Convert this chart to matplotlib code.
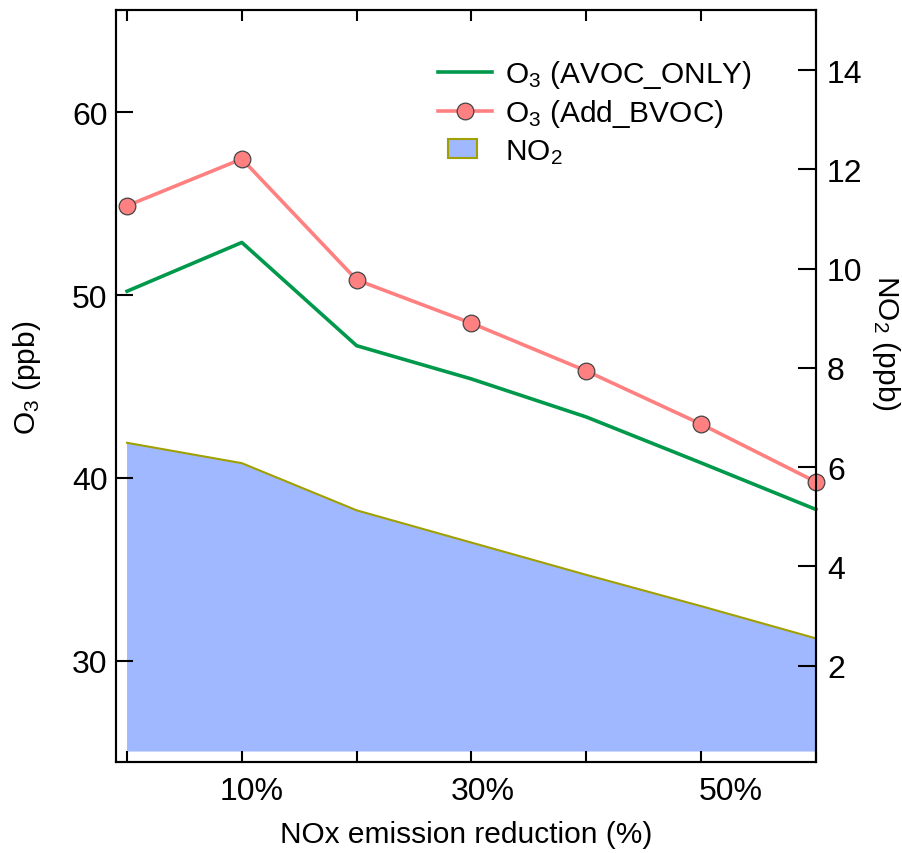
import numpy as np
import matplotlib
matplotlib.use("Agg")
from matplotlib import pyplot as plt
from matplotlib.ticker import FixedLocator
from matplotlib.patches import Rectangle
from matplotlib.legend_handler import HandlerPatch
from matplotlib.transforms import ScaledTranslation

plt.rcParams['font.family'] = ['Liberation Sans', 'DejaVu Sans']
plt.rcParams['mathtext.default'] = 'regular'

# data
reduction = [0, 10, 20, 30, 40, 50, 60]          # NOx emission reduction (%)
o3_avoc_only = [50.21, 52.88, 47.23, 45.41, 43.33, 40.82, 38.27]
o3_add_bvoc = [54.89, 57.45, 50.83, 48.46, 45.85, 42.94, 39.78]
no2 = [6.49, 6.08, 5.13, 4.48, 3.83, 3.20, 2.55]
x_labeled = [10, 30, 50]
x_unlabeled = [0, 20, 40, 60]
left_ticks = [30, 40, 50, 60]
right_ticks = [2, 4, 6, 8, 10, 12, 14]

green = '#00994C'
pink = '#FF8080'
fill_col = '#A0B8FF'
edge_col = '#A0A000'

fig = plt.figure(figsize=(9.03, 8.54), dpi=100)
ax1 = fig.add_axes([0.1285, 0.1066, 0.775, 0.8805])
ax2 = ax1.twinx()

# NO2 area on the right axis
ax2.fill_between(reduction, no2, 0.27, facecolor=fill_col, edgecolor='none', zorder=1)
ax2.plot(reduction, no2, color=edge_col, lw=1.5, zorder=2)
ax2.set_ylim(0.06, 15.21)
ax2.set_yticks(right_ticks)
ax2.set_ylabel('NO$_2$ (ppb)', fontsize=21.5, rotation=270, va='center', ha='center')
ax2.yaxis.set_label_coords(1.1, 0.5585)

# O3 lines on the left axis, drawn above the twin
ax1.set_zorder(ax2.get_zorder() + 1)
ax1.patch.set_visible(False)
l1, = ax1.plot(reduction, o3_avoc_only, color=green, lw=2.6, clip_on=False)
l2, = ax1.plot(reduction, o3_add_bvoc, color=pink, lw=2.6, marker='o', ms=12,
               mfc=pink, mec='#444444', mew=0.9, clip_on=False)
ax1.set_ylim(24.45, 65.6)
ax1.set_yticks(left_ticks)
ax1.set_xlim(-0.96, 60)
ax1.xaxis.set_major_locator(FixedLocator(x_labeled))
ax1.xaxis.set_minor_locator(FixedLocator(x_unlabeled))
ax1.set_xticklabels([f'{v}%' for v in x_labeled])
ax1.set_xlabel('NOx emission reduction (%)', fontsize=21.5, labelpad=10)
ax1.set_ylabel('O$_3$ (ppb)', fontsize=21.5, va='center', ha='center')
ax1.yaxis.set_label_coords(-0.127, 0.512)

for ax in (ax1, ax2):
    for s in ax.spines.values():
        s.set_linewidth(1.5)
ax1.tick_params(axis='y', direction='in', length=12, width=1.5, labelsize=23, pad=6, right=False)
ax1.tick_params(axis='x', which='both', direction='in', length=8, width=1.5, labelsize=23,
                top=True, pad=10)
ax2.tick_params(axis='y', direction='in', length=13, width=1.5, labelsize=23, pad=8)

# legend; NO2 key is a small box like the original
no2_key = Rectangle((0, 0), 1, 1, facecolor=fill_col, edgecolor=edge_col, lw=1.5)


def small_box(legend, orig_handle, xdescent, ydescent, width, height, fontsize):
    return Rectangle((width * 0.18 - xdescent, -ydescent + height * 0.05), width * 0.55, height * 0.9)


handles = [l1, l2, no2_key]
labels = ['O$_3$ (AVOC_ONLY)', 'O$_3$ (Add_BVOC)', 'NO$_2$']
leg = ax1.legend(handles, labels, loc='upper left', bbox_to_anchor=(438 / 903, 1 - 59 / 854),
                 bbox_transform=fig.transFigure, borderpad=0, borderaxespad=0,
                 frameon=False, fontsize=21.5, handlelength=1.8, handletextpad=0.45,
                 labelspacing=0.25,
                 handler_map={Rectangle: HandlerPatch(patch_func=small_box)})

# the tick labels in the original sit a bit right of their ticks
fig.canvas.draw()
shifts = [10, 11, 30]
for tick, dx in zip(ax1.xaxis.get_major_ticks(), shifts):
    lab = tick.label1
    lab.set_transform(lab.get_transform() + ScaledTranslation(dx / 100, 0, fig.dpi_scale_trans))

fig.savefig('out.png', dpi=100)
